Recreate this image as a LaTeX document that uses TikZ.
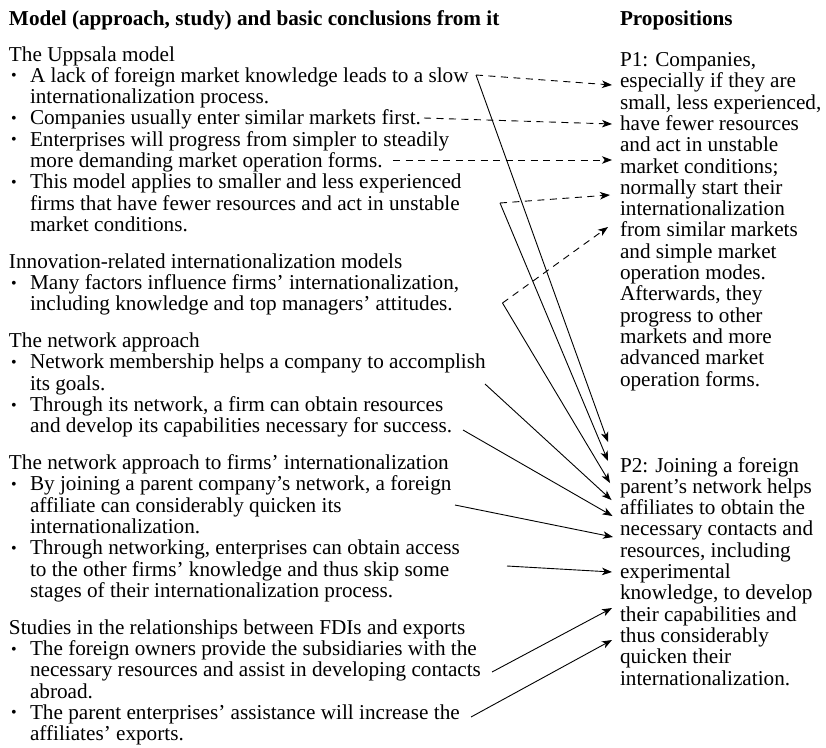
\documentclass[tikz,border=0pt]{standalone}
\usepackage{fontspec}
\setmainfont{Liberation Serif}
\usetikzlibrary{arrows.meta}

\begin{document}
\begin{tikzpicture}[x=1pt,y=-1pt,
  txt/.style={anchor=base west, inner sep=0pt, outer sep=0pt,
              font=\fontsize{21.2}{21.3}\selectfont},
  hdr/.style={txt, font=\fontsize{21.2}{21.3}\selectfont\bfseries},
  dot/.style={anchor=base, inner sep=0pt, outer sep=0pt, yshift=1.5pt,
              font=\fontsize{16}{16}\selectfont},
  link/.style={line width=0.9pt, -{Stealth[length=10pt,width=7.5pt,inset=2.8pt]}},
  hint/.style={link, dash pattern=on 7pt off 5.5pt},
  stem/.style={line width=0.9pt}
]
\useasboundingbox (0,0) rectangle (826,747);

% ---------- column headings ----------
\node[hdr] (hl) at (9,25) {Model (approach, study) and basic conclusions from it};
\node[hdr] (hr) at (620,25) {Propositions};

% ---------- left column: models and conclusions ----------
\node[txt] (u0) at (9,61.0) {The Uppsala model};
\node[dot] (ub1) at (14,82.3) {•};
\node[txt] (u1) at (30,82.3) {A lack of foreign market knowledge leads to a slow};
\node[txt] (u2) at (30,103.6) {internationalization process.};
\node[dot] (ub2) at (14,124.9) {•};
\node[txt] (u3) at (30,124.9) {Companies usually enter similar markets first.};
\node[dot] (ub3) at (14,146.2) {•};
\node[txt] (u4) at (30,146.2) {Enterprises will progress from simpler to steadily};
\node[txt] (u5) at (30,167.5) {more demanding market operation forms.};
\node[dot] (ub4) at (14,188.8) {•};
\node[txt] (u6) at (30,188.8) {This model applies to smaller and less experienced};
\node[txt] (u7) at (30,210.1) {firms that have fewer resources and act in unstable};
\node[txt] (u8) at (30,231.4) {market conditions.};

\node[txt] (i0) at (9,268.2) {Innovation-related internationalization models};
\node[dot] (ib1) at (14,289.5) {•};
\node[txt] (i1) at (30,289.5) {Many factors influence firms’ internationalization,};
\node[txt] (i2) at (30,310.8) {including knowledge and top managers’ attitudes.};

\node[txt] (n0) at (9,347.6) {The network approach};
\node[dot] (nb1) at (14,368.9) {•};
\node[txt] (n1) at (30,368.9) {Network membership helps a company to accomplish};
\node[txt] (n2) at (30,390.2) {its goals.};
\node[dot] (nb2) at (14,411.5) {•};
\node[txt] (n3) at (30,411.5) {Through its network, a firm can obtain resources};
\node[txt] (n4) at (30,432.8) {and develop its capabilities necessary for success.};

\node[txt] (f0) at (9,469.6) {The network approach to firms’ internationalization};
\node[dot] (fb1) at (14,490.9) {•};
\node[txt] (f1) at (30,490.9) {By joining a parent company’s network, a foreign};
\node[txt] (f2) at (30,512.2) {affiliate can considerably quicken its};
\node[txt] (f3) at (30,533.5) {internationalization.};
\node[dot] (fb2) at (14,554.8) {•};
\node[txt] (f4) at (30,554.8) {Through networking, enterprises can obtain access};
\node[txt] (f5) at (30,576.1) {to the other firms’ knowledge and thus skip some};
\node[txt] (f6) at (30,597.4) {stages of their internationalization process.};

\node[txt] (s0) at (9,634.2) {Studies in the relationships between FDIs and exports};
\node[dot] (sb1) at (14,655.5) {•};
\node[txt] (s1) at (30,655.5) {The foreign owners provide the subsidiaries with the};
\node[txt] (s2) at (30,676.8) {necessary resources and assist in developing contacts};
\node[txt] (s3) at (30,698.1) {abroad.};
\node[dot] (sb2) at (14,719.4) {•};
\node[txt] (s4) at (30,719.4) {The parent enterprises’ assistance will increase the};
\node[txt] (s5) at (30,740.7) {affiliates’ exports.};

% ---------- right column: propositions ----------
\node[txt] (pa0) at (620,66.5) {P1: Companies,};
\node[txt] (pa1) at (620,87.8) {especially if they are};
\node[txt] (pa2) at (620,109.1) {small, less experienced,};
\node[txt] (pa3) at (620,130.4) {have fewer resources};
\node[txt] (pa4) at (620,151.7) {and act in unstable};
\node[txt] (pa5) at (620,173.0) {market conditions;};
\node[txt] (pa6) at (620,194.3) {normally start their};
\node[txt] (pa7) at (620,215.6) {internationalization};
\node[txt] (pa8) at (620,236.9) {from similar markets};
\node[txt] (pa9) at (620,258.2) {and simple market};
\node[txt] (pa10) at (620,279.5) {operation modes.};
\node[txt] (pa11) at (620,300.8) {Afterwards, they};
\node[txt] (pa12) at (620,322.1) {progress to other};
\node[txt] (pa13) at (620,343.4) {markets and more};
\node[txt] (pa14) at (620,364.7) {advanced market};
\node[txt] (pa15) at (620,386.0) {operation forms.};

\node[txt] (pb0) at (620,472.0) {P2: Joining a foreign};
\node[txt] (pb1) at (620,493.3) {parent’s network helps};
\node[txt] (pb2) at (620,514.6) {affiliates to obtain the};
\node[txt] (pb3) at (620,535.9) {necessary contacts and};
\node[txt] (pb4) at (620,557.2) {resources, including};
\node[txt] (pb5) at (620,578.5) {experimental};
\node[txt] (pb6) at (620,599.8) {knowledge, to develop};
\node[txt] (pb7) at (620,621.1) {their capabilities and};
\node[txt] (pb8) at (620,642.4) {thus considerably};
\node[txt] (pb9) at (620,663.7) {quicken their};
\node[txt] (pb10) at (620,685.0) {internationalization.};

% ---------- connector ends ----------
% start points beside the conclusions
\coordinate (cSlow)   at (476,75);
\coordinate (cFirst)  at (424,118);
\coordinate (cForms)  at (393,160);
\coordinate (cUnst)   at (500,203);
\coordinate (cAtt)    at (502.5,303);
\coordinate (cGoals)  at (485,384);
\coordinate (cSucc)   at (463,430);
\coordinate (cForgn)  at (455,505);
\coordinate (cSome)   at (507,566);
\coordinate (cCont)   at (492,672);
\coordinate (cThe)    at (471,717);
% arrow tips at proposition P1
\coordinate (qa1) at (612,85);
\coordinate (qa2) at (612,124);
\coordinate (qa3) at (612,160);
\coordinate (qa4) at (610,195);
\coordinate (qa5) at (608,227);
% arrow tips at proposition P2
\coordinate (qb1) at (608,442);
\coordinate (qb2) at (608,461);
\coordinate (qb3) at (610,483);
\coordinate (qb4) at (611.5,500);
\coordinate (qb5) at (612.5,516);
\coordinate (qb6) at (613,537);
\coordinate (qb7) at (612,572);
\coordinate (qb8) at (612,608);
\coordinate (qb9) at (612,640);

% ---------- dashed links to P1 ----------
\draw[hint] (cSlow)  -- (qa1);
\draw[hint] (cFirst) -- (qa2);
\draw[hint] (cForms) -- (qa3);
\draw[hint] (cUnst)  -- (qa4);
\draw[hint] (cAtt)   -- (qa5);

% ---------- solid links to P2 ----------
\draw[link] (cSlow)  -- (qb1);
\draw[link] (cUnst)  -- (qb2);
\draw[link] (cAtt)   -- (qb3);
\draw[link] (cGoals) -- (qb4);
\draw[link] (cSucc)  -- (qb5);
\draw[link] (cForgn) -- (qb6);
\draw[link] (cSome)  -- (qb7);
\draw[link] (cCont)  -- (qb8);
\draw[link] (cThe)   -- (qb9);
\end{tikzpicture}
\end{document}
